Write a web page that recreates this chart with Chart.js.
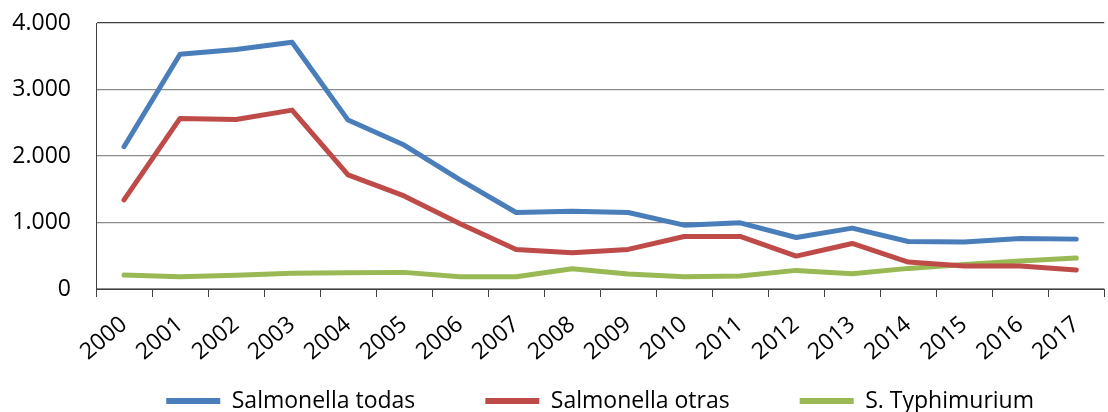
<!DOCTYPE html>
<html><head><meta charset="utf-8">
<script src="https://cdn.jsdelivr.net/npm/chart.js@4.4.1/dist/chart.umd.min.js"></script>
<style>html,body{margin:0;padding:0;background:#fff;}canvas{display:block;}</style>
</head><body>
<canvas id="c" width="1108" height="412"></canvas>
<script>
const years = ['2000','2001','2002','2003','2004','2005','2006','2007','2008','2009','2010','2011','2012','2013','2014','2015','2016','2017'];
const salmonellaTodas = [2140,3530,3600,3710,2540,2165,1640,1150,1170,1150,960,995,775,915,715,705,760,750];
const salmonellaOtras = [1340,2565,2550,2690,1715,1400,980,595,545,595,790,790,495,685,405,345,345,285];
const sTyphimurium = [210,185,205,235,245,250,185,185,305,225,185,195,280,230,310,370,420,465];
const yTickLabels = ['0','1.000','2.000','3.000','4.000'];
const seriesNames = ['Salmonella todas','Salmonella otras','S. Typhimurium'];
const colors = ['#4A7EBB','#BE4B48','#98B954'];

const FONT = '"Open Sans", Carlito, Calibri, sans-serif';
const P = 70;
const LEG_FONT = 23;
const LH = P + LEG_FONT/2 + 11;

function ds(label, data, color){
  return {label, data, borderColor: color, backgroundColor: color, borderWidth: 5,
    pointRadius: 0, tension: 0, borderCapStyle: 'round', borderJoinStyle: 'round', fill: false};
}

const noLabelClip = {
  id: 'noLabelClip',
  afterLayout(chart){ if (chart.scales.x) chart.scales.x._computeLabelArea = () => undefined; }
};

new Chart(document.getElementById('c'), {
  type: 'line',
  data: {
    labels: years,
    datasets: [
      ds(seriesNames[0], salmonellaTodas, colors[0]),
      ds(seriesNames[1], salmonellaOtras, colors[1]),
      ds(seriesNames[2], sTyphimurium, colors[2])
    ]
  },
  plugins: [noLabelClip],
  options: {
    responsive: false,
    animation: false,
    layout: {padding: {top: 23, right: 0, bottom: 0, left: 0}},
    plugins: {
      tooltip: {enabled: false},
      legend: {
        position: 'bottom',
        fullSize: false,
        maxHeight: LH,
        labels: {
          boxWidth: 54, boxHeight: 6, padding: P, color: '#000',
          font: {family: FONT, size: LEG_FONT},
          generateLabels: (chart) => Chart.defaults.plugins.legend.labels.generateLabels(chart).map(i => Object.assign(i, {lineWidth: 0}))
        }
      }
    },
    scales: {
      x: {
        offset: true,
        grid: {offset: true, drawOnChartArea: false, drawTicks: true, tickLength: 8, color: '#404040'},
        border: {color: '#404040', width: 1},
        ticks: {minRotation: 40, maxRotation: 40, autoSkip: false, color: '#000', padding: 14, font: {family: FONT, size: 23}},
        afterFit: (s) => { s.height = 412 - LH - 289; }
      },
      y: {
        min: 0, max: 4000,
        ticks: {stepSize: 1000, padding: 3, color: '#000', font: {family: FONT, size: 23},
          callback: (v) => yTickLabels[Math.round(v / 1000)]},
        grid: {drawTicks: true, tickLength: 22, tickColor: 'rgba(0,0,0,0)', lineWidth: 1.3,
          color: (ctx) => (ctx.tick && ctx.tick.value === 4000) ? '#404040' : '#8c8c8c'},
        border: {color: '#404040', width: 1},
        afterFit: (s) => { s.width = 96; }
      }
    }
  }
});
</script>
</body></html>
